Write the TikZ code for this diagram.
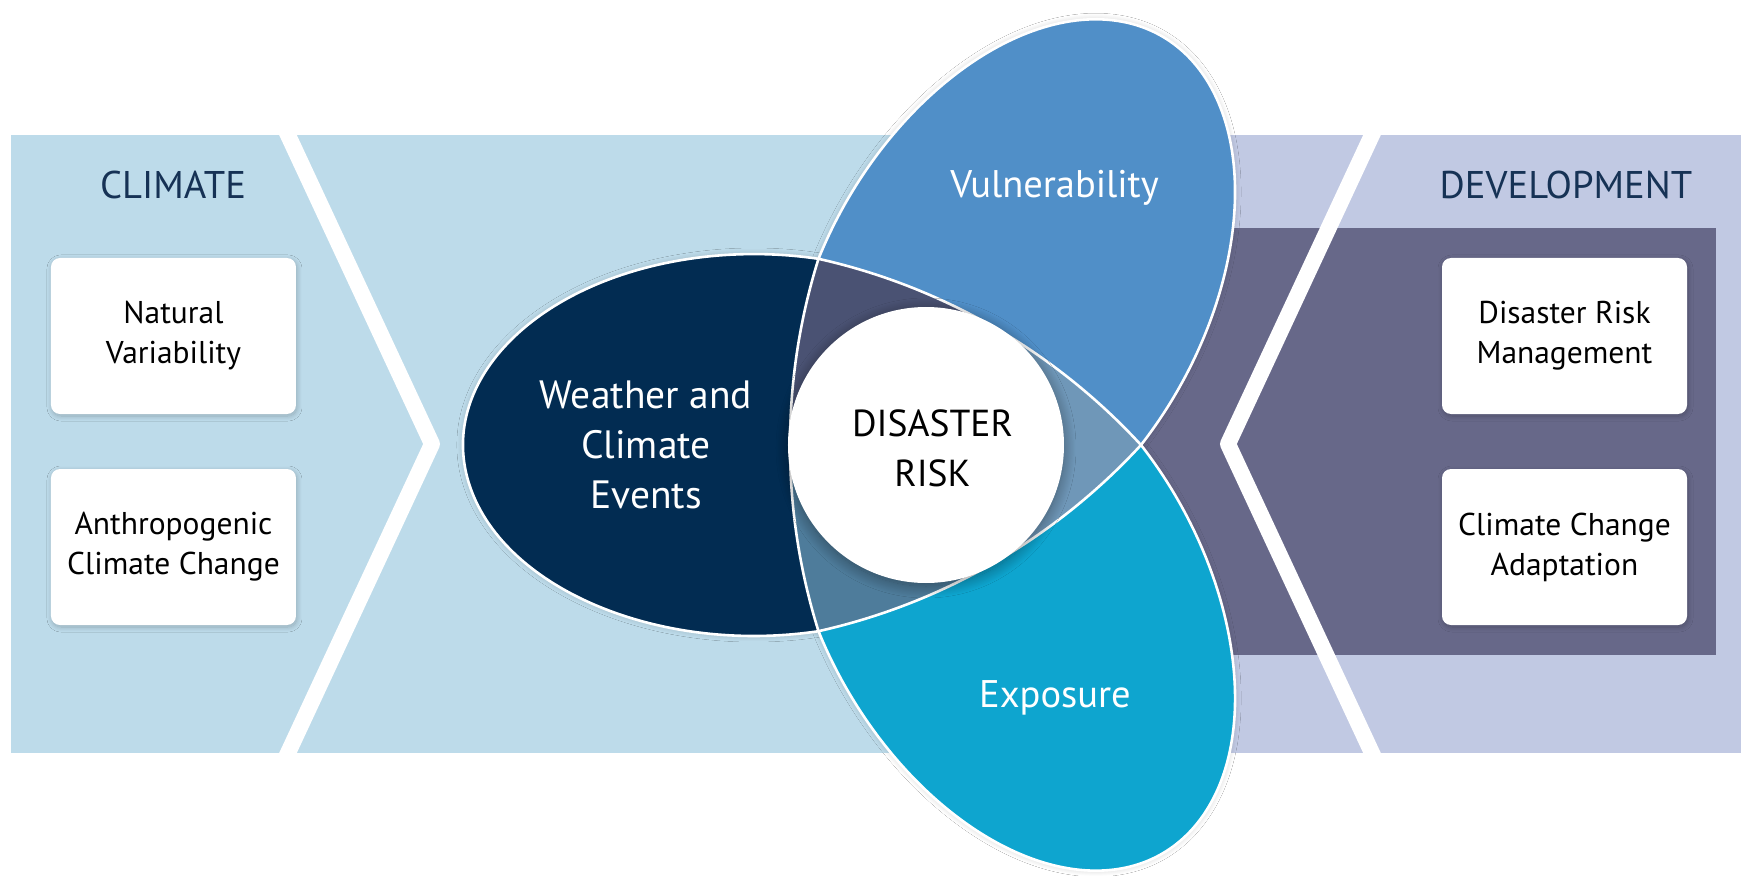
\documentclass[tikz,border=0pt]{standalone}
\usepackage{fontspec}
\setmainfont{PT Sans}
\usetikzlibrary{shadows.blur}

\definecolor{bandblue}{RGB}{189,219,234}
\definecolor{bandlav}{RGB}{193,201,227}
\definecolor{devdark}{RGB}{103,104,137}
\definecolor{navy}{RGB}{2,44,82}
\definecolor{vulblue}{RGB}{80,143,200}
\definecolor{expcyan}{RGB}{14,165,207}
\definecolor{wvmix}{RGB}{74,82,115}
\definecolor{wemix}{RGB}{78,124,155}
\definecolor{vemix}{RGB}{111,151,184}
\definecolor{titleblue}{RGB}{22,50,85}

% One petal, pointing along +x: rounded outer end (elliptic arc) closed by
% a flat inner arc; #1,#2 = radii of the outer arc, #3 = its start angle.
\newcommand\petalregion[3]{(107.5,186.2)
  arc[start angle=#3, end angle=-#3, x radius=#1, y radius=#2]
  arc[start angle=-17.404, end angle=17.404, radius=622.5] -- cycle}
% Curved triangle where the petals overlap
\newcommand\innertriangle{(215,0)
  arc[start angle=42.596, end angle=77.404, radius=622.5]
  arc[start angle=162.596, end angle=197.404, radius=622.5]
  arc[start angle=-77.404, end angle=-42.596, radius=622.5] -- cycle}

\begin{document}
\begin{tikzpicture}[x=1pt, y=1pt,
  rim/.style={draw=white, line width=2.6pt},
  chevron/.style={draw=white, line width=16pt, line join=round},
  petalshadow/.style={blur shadow={shadow xshift=0pt, shadow yshift=0pt,
      shadow blur radius=6pt, shadow blur steps=24, shadow opacity=18}},
  box/.style={fill=white, rounded corners=9pt, inner sep=0pt,
      minimum width=245pt, minimum height=156pt, align=center,
      font=\fontsize{31.5}{40}\selectfont, text=black,
      blur shadow={shadow xshift=1pt, shadow yshift=-2pt,
      shadow blur radius=5pt, shadow blur steps=20, shadow opacity=22}},
  heading/.style={anchor=base, font=\fontsize{38.6}{44}\selectfont, text=titleblue},
  petaltext/.style={align=center, font=\fontsize{39.5}{50}\selectfont, text=white},
  sidetext/.style={anchor=base, font=\fontsize{38.5}{44}\selectfont, text=white},
  risktext/.style={align=center, font=\fontsize{37.6}{50}\selectfont, text=black},
]
\useasboundingbox (-926,-431) rectangle (815,445);
\fill[white] (-926,-431) rectangle (815,445);

% background band: climate side, development side, development panel
\fill[bandblue] (-915,-308) rectangle (200,310);
\fill[bandlav] (200,-308) rectangle (815,310);
\fill[devdark] (200,-210) rectangle (790,217);

% white chevrons
\begin{scope}
  \clip (-915,-308) rectangle (815,310);
  \draw[chevron] (-652,340) -- (-494,1) -- (-652,-338);
  \draw[chevron] (460,340) -- (302,1) -- (460,-338);
\end{scope}

% petal shadows
\path[petalshadow, rotate=180] \petalregion{291}{190.95}{102.806};
\path[petalshadow, rotate=60] \petalregion{300}{190.66}{102.415};
\path[petalshadow, rotate=-60] \petalregion{300}{190.66}{102.415};

% petals
\fill[navy, rotate=180] \petalregion{291}{190.95}{102.806};
\fill[vulblue, rotate=60] \petalregion{300}{190.66}{102.415};
\fill[expcyan, rotate=-60] \petalregion{300}{190.66}{102.415};

% overlaps
\begin{scope}
  \clip \innertriangle;
  \fill[wvmix] (0,0) -- (60:700) -- (120:700) -- (180:700) -- cycle;
  \fill[wemix] (0,0) -- (180:700) -- (240:700) -- (300:700) -- cycle;
  \fill[vemix] (0,0) -- (300:700) -- (0:700) -- (60:700) -- cycle;
\end{scope}

% white outlines
\draw[rim, rotate=180] \petalregion{291}{190.95}{102.806};
\draw[rim, rotate=60] \petalregion{300}{190.66}{102.415};
\draw[rim, rotate=-60] \petalregion{300}{190.66}{102.415};

% centre disc
\node[circle, fill=white, minimum size=276pt, inner sep=0pt,
  blur shadow={shadow xshift=0pt, shadow yshift=-3pt,
  shadow blur radius=12pt, shadow blur steps=24, shadow opacity=40}] (disc) at (0,0) {};
\node[risktext] (risk) at (6.5,-3) {DISASTER\\RISK};

% petal labels
\node[petaltext] (weather) at (-280,0) {Weather and\\Climate\\Events};
\node[sidetext] (vuln) at (128.5,247) {Vulnerability};
\node[sidetext] (expo) at (129,-262) {Exposure};

% side headings
\node[heading] (climate) at (-753,246) {CLIMATE};
\node[heading] (development) at (640,246) {DEVELOPMENT};

% side boxes
\node[box] (natvar) at (-752.5,109) {Natural\\Variability};
\node[box] (anthro) at (-752.5,-102) {Anthropogenic\\Climate Change};
\node[box] (drm) at (638.5,109) {Disaster Risk\\Management};
\node[box] (cca) at (638.5,-102) {Climate Change\\Adaptation};
\end{tikzpicture}
\end{document}
